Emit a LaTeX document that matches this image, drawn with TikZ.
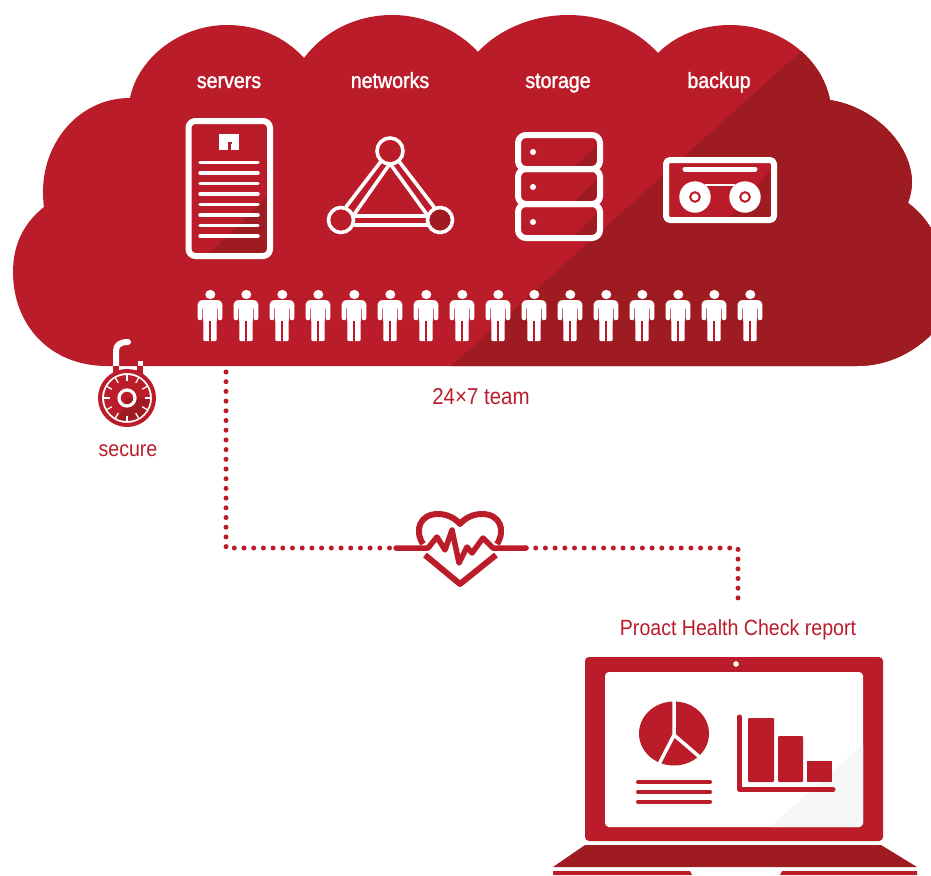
\documentclass[tikz,border=0pt]{standalone}
\usepackage{fontspec}
\setmainfont{Liberation Sans}
\newfontfamily\labfont[FakeStretch=0.89]{Liberation Sans}
\newfontfamily\semifont[FakeStretch=0.89,FakeBold=1.5]{Liberation Sans}
\definecolor{brandred}{HTML}{BB1C2A}
\definecolor{branddark}{HTML}{9E1B21}
\definecolor{screenshade}{HTML}{F6F6F6}
\def\cloudoutline{(130,98) .. controls (138,58) and (180,25) .. (227,25) .. controls (258,25) and (285,37) .. (304,58)
 .. controls (325,30) and (358,15) .. (392,15) .. controls (425,15) and (458,30) .. (478,52)
 .. controls (500,28) and (535,15) .. (568,15) .. controls (605,15) and (637,30) .. (658,53)
 .. controls (676,35) and (702,25) .. (730,25) .. controls (780,25) and (822,58) .. (830,100)
 .. controls (875,107) and (912,145) .. (912,183) .. controls (912,190) and (910,197) .. (908,203)
 .. controls (918,210) and (926,220) .. (931,228) -- (931,335) .. controls (910,355) and (885,366) .. (857,366)
 -- (107,366) .. controls (50,366) and (13,325) .. (13,272) .. controls (13,243) and (25,222) .. (44,207)
 .. controls (36,150) and (75,98) .. (130,98) -- cycle}
\tikzset{
 x=1pt,y=-1pt,
 whiteline/.style={draw=white,line width=6pt,line join=round,line cap=round},
 thinwhite/.style={draw=white,line width=3.6pt,line join=round,line cap=round},
 cloudlabel/.style={text=white,font=\semifont\fontsize{22}{24}\selectfont,inner sep=0pt,anchor=base},
 redlabel/.style={text=brandred,font=\labfont\fontsize{22}{24}\selectfont,inner sep=0pt,anchor=base},
 dotline/.style={draw=brandred,line width=5pt,line cap=round,dash pattern=on 0pt off 9.7pt},
 pulse/.style={draw=brandred,line width=6pt,line join=round,line cap=round},
 person/.pic={
  \fill[white] (0.3,4.5) ellipse (5 and 4.6);
  \fill[white,rounded corners=1.5pt] (-8.5,10.2) rectangle (8.5,19);
  \fill[white] (-7,15) rectangle (7,31);
  \fill[white,rounded corners=1pt] (-6.6,29) rectangle (6.6,51);
  \draw[brandred,line width=1.2pt] (0,31) -- (0,51);
  \draw[white,line width=4.6pt,line cap=round,line join=round] (-10,28) -- (-10,14.5) .. controls (-10,12.5) and (-8.5,12.4) .. (-6,12.4) -- (6,12.4) .. controls (8.5,12.4) and (10,12.5) .. (10,14.5) -- (10,28);
 }
}
\begin{document}
\begin{tikzpicture}
\useasboundingbox (0,0) rectangle (931,875);
% cloud
\fill[brandred] \cloudoutline;
\begin{scope}
 \clip \cloudoutline;
 \fill[branddark] (449,368) -- (809,44) -- (940,44) -- (940,368) -- cycle;
\end{scope}
% labels
\node[cloudlabel] (servers) at (229,88) {servers};
\node[cloudlabel] (networks) at (390,88) {networks};
\node[cloudlabel] (storage) at (558,88) {storage};
\node[cloudlabel] (backup) at (719,88) {backup};
\node[redlabel,font=\labfont\fontsize{23}{24}\selectfont] (team) at (481,404) {24×7 team};
\node[redlabel] (secure) at (128,456) {secure};
\node[redlabel] (report) at (738,635) {Proact Health Check report};
% server icon
\begin{scope}
 \clip (188.5,121) rectangle (270,256);
 \fill[branddark] (207,256) -- (270,194) -- (270,256) -- cycle;
\end{scope}
\draw[whiteline,rounded corners=7pt] (188.5,121) rectangle (270,256);
\fill[white] (219,134) rectangle (239,150);
\fill[brandred] (228,143) rectangle (231,150);
\fill[brandred] (227.5,142) rectangle (231.5,144);
\foreach \yy in {162.5,173,183.5,194,204.5,215,225.5,236}
 \draw[white,line width=3.5pt,line cap=round] (200,\yy) -- (258,\yy);
% network icon
\draw[thinwhite] (390,163.5) -- (353,216) -- (428,216) -- cycle;
\draw[thinwhite] (382,160) -- (346,207);
\draw[thinwhite] (398,160) -- (434,207);
\draw[thinwhite] (355,225) -- (427,225);
\draw[thinwhite,fill=brandred] (390,151) circle (13);
\draw[thinwhite,fill=brandred] (341,220) circle (12.5);
\draw[thinwhite,fill=branddark] (440,220) circle (12.5);
% storage icon
\begin{scope}
 \clip (518,135) rectangle (600,238);
 \fill[branddark] (573,169) -- (600,142) -- (600,169) -- cycle;
 \fill[branddark] (573,203) -- (600,176) -- (600,203) -- cycle;
 \fill[branddark] (573,238) -- (600,210) -- (600,238) -- cycle;
\end{scope}
\draw[whiteline,rounded corners=8pt] (518,135) rectangle (600,169);
\draw[whiteline,rounded corners=8pt] (518,169) rectangle (600,204);
\draw[whiteline,rounded corners=8pt] (518,204) rectangle (600,238);
\foreach \yy in {152,187,222} \fill[white] (533,\yy) circle (3);
% backup icon
\fill[brandred] (666,160) rectangle (774,220);
\fill[branddark] (728,220) -- (774,166) -- (774,220) -- cycle;
\draw[whiteline,rounded corners=4pt] (666,160) rectangle (774,220);
\draw[white,line width=5pt,line cap=round] (685,169) -- (755,169);
\fill[white] (695,197) circle (15.7);
\fill[white] (745,197) circle (15.7);
\draw[white,line width=2.4pt] (705,185) -- (735,185);
\draw[brandred,line width=2pt] (695,197) circle (4.8);
\draw[brandred,line width=2pt] (745,197) circle (4.8);
% team
\foreach \i in {0,...,15}
 \pic at ({210+36*\i},290) {person};
% lock
\begin{scope}
 \clip (90,330) rectangle (165,366);
 \draw[white,line width=6pt,line cap=round] (116,372) -- (116,351) .. controls (116,345) and (120,342) .. (128,342);
 \draw[white,line width=5pt] (140,361) -- (140,372);
\end{scope}
\begin{scope}
 \clip (90,366) rectangle (165,395);
 \draw[brandred,line width=6pt] (116,360) -- (116,384);
 \draw[brandred,line width=5.5pt] (140,360) -- (140,384);
 \draw[brandred,line width=3.5pt] (116,372) -- (140,372);
\end{scope}
\draw[white,line width=3pt] (127,398) circle (24.5);
\draw[brandred,line width=4pt] (127,398) circle (27);
\fill[brandred] (127,398) circle (23);
\begin{scope}
 \clip (127,398) circle (23);
 \fill[branddark] (127,398) -- (150,398) -- (150,420) -- (118,420) -- cycle;
\end{scope}
\foreach \a in {0,30,...,330}
 \draw[white,line width=1.3pt] (127,398) ++(\a:17.5) -- ++(\a:5.5);
\draw[white,line width=3.2pt] (127,398) circle (8);
% heart and connectors
\coordinate (cloudport) at (226,372);
\coordinate (heartL) at (396,548);
\coordinate (heartR) at (526,548);
\coordinate (reportport) at (738,600);
\draw[dotline] (cloudport) -- (cloudport |- heartL) -- (heartL);
\draw[dotline] (heartR) -- (reportport |- heartR) -- (reportport);
\draw[pulse,line cap=butt] (423,544) .. controls (414,530) and (420,514) .. (438,514) .. controls (447,514) and (455,518) .. (460,524) .. controls (465,518) and (473,514) .. (482,514) .. controls (500,514) and (506,530) .. (497,544);
\draw[pulse,line cap=butt] (425,555) -- (460,584) -- (496,555);
\draw[pulse,line width=5.5pt] (heartL) -- (428,548) -- (437,537) -- (445,550) -- (452,530) -- (459,563) -- (467,547) -- (472,553) -- (483,538) -- (493,548) -- (heartR);
% laptop
\fill[brandred,rounded corners=4pt] (585,657) rectangle (883,841);
\fill[white,rounded corners=4pt] (605,672) rectangle (863,827);
\begin{scope}
 \clip[rounded corners=4pt] (605,672) rectangle (863,827);
 \fill[screenshade] (770,827) -- (863,745) -- (863,827) -- cycle;
\end{scope}
\fill[white] (736,664) circle (2.8);
\fill[brandred] (674,733.5) ellipse (35 and 32);
\draw[white,line width=3.5pt] (674,695) -- (674,735) -- (657,768);
\draw[white,line width=3.5pt] (674,735) -- (702,759);
\foreach \yy in {782,792,801.5}
 \draw[brandred,line width=4pt,line cap=round] (638,\yy) -- (710,\yy);
\draw[brandred,line width=5pt,line cap=round,line join=round] (739.5,717) -- (739.5,789.5) -- (833,789.5);
\fill[brandred,rounded corners=1pt] (748,718) rectangle (774,782);
\fill[brandred,rounded corners=1pt] (778,736) rectangle (803,782);
\fill[brandred] (807,761) rectangle (832,782);
\fill[branddark] (585,845) -- (881,845) -- (917,867) -- (553,867) -- cycle;
\fill[brandred] (553,871) -- (690,871) -- (692,875) -- (553,875) -- cycle;
\fill[brandred] (782,871) -- (917,871) -- (917,875) -- (780,875) -- cycle;
\end{tikzpicture}
\end{document}
